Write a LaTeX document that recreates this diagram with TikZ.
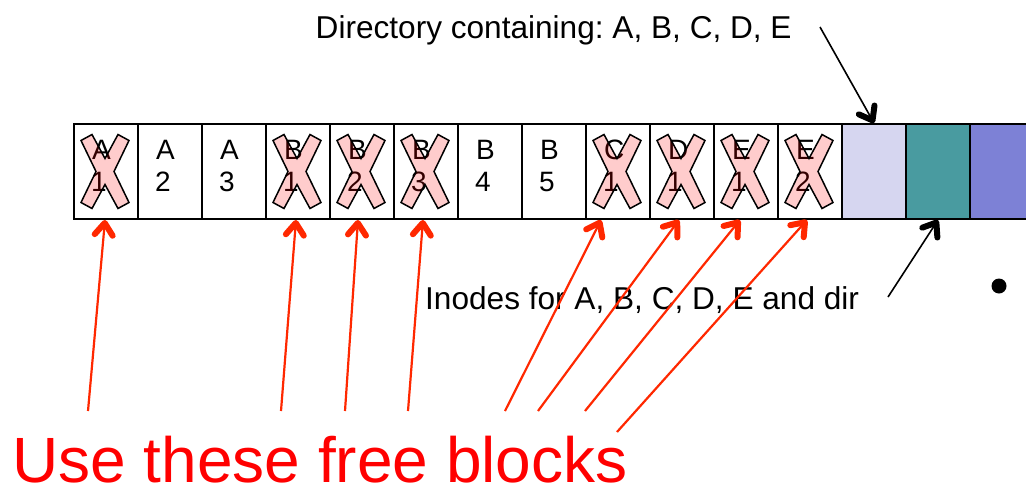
\documentclass[tikz,border=0pt]{standalone}
\usepackage{fontspec}
\setmainfont{Liberation Sans}
\usetikzlibrary{arrows.meta,calc}
\definecolor{arrowred}{RGB}{255,40,0}
\definecolor{dirblue}{RGB}{214,214,240}
\definecolor{inodeteal}{RGB}{73,155,160}
\definecolor{dataviolet}{RGB}{125,129,214}
\frenchspacing

\begin{document}
\begin{tikzpicture}[x=1pt,y=-1pt,
  block/.style={draw=black, line width=2pt, minimum width=64pt, minimum height=95pt,
                inner sep=0pt, anchor=north west},
  celltxt/.style={inner sep=0pt, anchor=base west, font=\fontsize{28}{30}\selectfont},
  label/.style={inner sep=0pt, anchor=base west, font=\fontsize{31.6}{36}\selectfont},
  xmark/.style={draw=black, line width=1.5pt, fill=red, fill opacity=0.2, line join=miter},
  redarrow/.style={draw=arrowred, line width=2.2pt,
                   -{Straight Barb[length=12pt,width=18pt,line width=6pt,round]}},
  blackarrow/.style={draw=black, line width=1.6pt,
                   -{Straight Barb[length=12pt,width=18pt,line width=6pt,round]}}
]
\useasboundingbox (0,0) rectangle (1026,488);
\clip (0,0) rectangle (1026,488);

% disk blocks: twelve data blocks, then directory, inode and data blocks
\foreach \i in {0,...,11}
  \node[block, fill=white] (c\i) at (73+64*\i,123) {};
\node[block, fill=dirblue]    (c12) at (73+64*12,123) {};
\node[block, fill=inodeteal]  (c13) at (73+64*13,123) {};
\node[block, fill=dataviolet] (c14) at (73+64*14,123) {};

% file block names, crossed out where the file was deleted
\foreach \i/\f/\n/\gone in {0/A/1/1, 1/A/2/0, 2/A/3/0, 3/B/1/1, 4/B/2/1, 5/B/3/1,
                            6/B/4/0, 7/B/5/0, 8/C/1/1, 9/D/1/1, 10/E/1/1, 11/E/2/1} {
  \node[celltxt] (f\i) at ($(c\i.north west)+(19,36)$) {\f};
  \node[celltxt] (n\i) at ($(c\i.north west)+(18,68)$) {\n};
  \ifnum\gone=1
    \begin{scope}[shift={($(c\i.center)+(-1,0)$)}]
      \draw[xmark] (-24,-31) -- (-13,-37) -- (0,-13) -- (13,-37) -- (24,-31) -- (9,0)
        -- (24,31) -- (13,37) -- (0,13) -- (-13,37) -- (-24,31) -- (-9,0) -- cycle;
    \end{scope}
  \fi
}

% labels
\node[label] (dirlabel) at (315.5,38) {Directory containing: A, B, C, D, E};
\node[label] (inodelabel) at (425,309) {Inodes for A, B, C, D, E and dir};
\node[inner sep=0pt, anchor=base west, text=red, font=\fontsize{64}{70}\selectfont]
  (usefree) at (12,482) {Use these free blocks};
\fill (999,286) circle (7.5);

% pointers to the directory and inode blocks
\coordinate (dstart) at (820,27);
\coordinate (istart) at (888,297);
\draw[blackarrow] (dstart) -- (c12.north);
\draw[blackarrow] (istart) -- (c13.south);

% pointers to the freed blocks
\coordinate (s0)  at (88,411);
\coordinate (s3)  at (281,411);
\coordinate (s4)  at (345,411);
\coordinate (s5)  at (408,411);
\coordinate (s8)  at (505,411);
\coordinate (s9)  at (538,411);
\coordinate (s10) at (585,411);
\coordinate (s11) at (617,432);
\draw[redarrow] (s0)  -- ($(c0.south)+(-1,0)$);
\draw[redarrow] (s3)  -- ($(c3.south)+(-2,0)$);
\draw[redarrow] (s4)  -- ($(c4.south)+(-4,0)$);
\draw[redarrow] (s5)  -- ($(c5.south)+(-3,0)$);
\draw[redarrow] (s8)  -- ($(c8.south)+(-17,0)$);
\draw[redarrow] (s9)  -- ($(c9.south)+(-3,0)$);
\draw[redarrow] (s10) -- ($(c10.south)+(-6,0)$);
\draw[redarrow] (s11) -- ($(c11.south)+(-3,0)$);
\end{tikzpicture}
\end{document}
